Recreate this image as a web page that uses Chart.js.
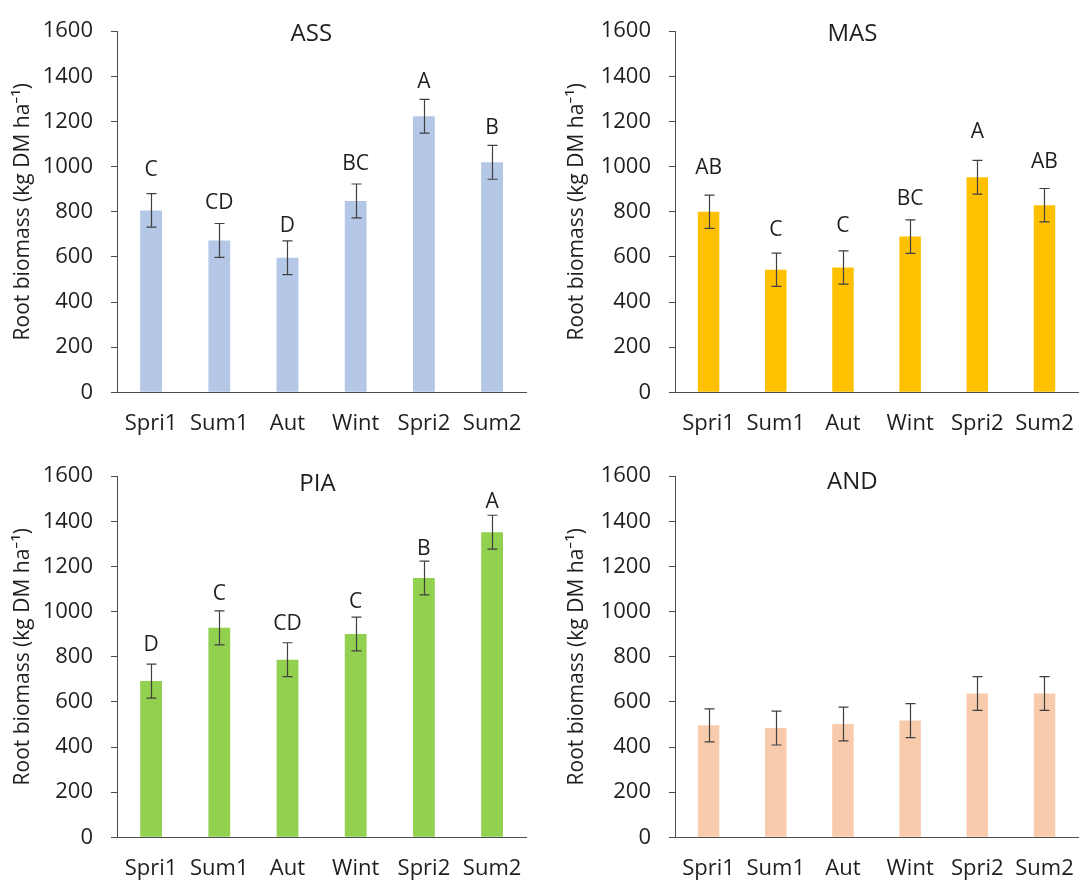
<!DOCTYPE html>
<html>
<head>
<meta charset="utf-8">
<title>Root biomass by season</title>
<script src="https://cdn.jsdelivr.net/npm/chart.js@4.4.1/dist/chart.umd.min.js"></script>
<style>
  html, body { margin: 0; padding: 0; background: #ffffff; overflow: hidden; }
  body { width: 1083px; height: 886px; position: relative; }
  canvas { position: absolute; display: block; }
</style>
</head>
<body>
<canvas id="cASS"></canvas>
<canvas id="cMAS"></canvas>
<canvas id="cPIA"></canvas>
<canvas id="cAND"></canvas>
<script>
// Sampling seasons
const categories = ['Spri1', 'Sum1', 'Aut', 'Wint', 'Spri2', 'Sum2'];

// Y-axis ticks (kg DM ha-1)
const yTicks = [0, 200, 400, 600, 800, 1000, 1200, 1400, 1600];

// Mean root biomass per site
const assValues = [806, 673, 596, 848, 1223, 1019];
const masValues = [800, 543, 553, 690, 953, 829];
const piaValues = [692, 928, 787, 901, 1149, 1352];
const andValues = [496, 484, 502, 517, 637, 637];

// Standard errors
const assErrors = [74, 75, 75, 75, 75, 75];
const masErrors = [74, 74, 74, 74, 75, 74];
const piaErrors = [75, 75, 75, 75, 75, 75];
const andErrors = [73, 75, 75, 75, 75, 75];

// Significance letters
const assLetters = ['C', 'CD', 'D', 'BC', 'A', 'B'];
const masLetters = ['AB', 'C', 'C', 'BC', 'A', 'AB'];
const piaLetters = ['D', 'C', 'CD', 'C', 'B', 'A'];
const andLetters = [];

const FONT = "'Open Sans', 'Noto Sans', sans-serif";
const TEXT = '#1f1f1f';
const AXIS = '#4d4d4d';
const ERR = '#404040';
const Y_TITLE = 'Root biomass (kg DM ha\u207B\u00B9)';

// Panel layout: canvas box, plot edges and label placement (pixels)
const panels = [
  { id: 'cASS', title: 'ASS', values: assValues, errors: assErrors, letters: assLetters,
    color: '#B4C7E7', left: 0, top: 0, width: 540, yWidth: 117, padRight: 8,
    titleFrac: 0.475, titleBase: 40.5, yTitlePad: 10,
    letterGap: [17.7, 14.3, 8.7, 14, 11.3, 11.7] },
  { id: 'cMAS', title: 'MAS', values: masValues, errors: masErrors, letters: masLetters,
    color: '#FFC000', left: 540, top: 0, width: 552, yWidth: 135, padRight: 3,
    titleFrac: 0.44, titleBase: 41, yTitlePad: 24,
    letterGap: [21, 17.3, 19, 14.7, 22, 20.3] },
  { id: 'cPIA', title: 'PIA', values: piaValues, errors: piaErrors, letters: piaLetters,
    color: '#92D050', left: 0, top: 445, width: 540, yWidth: 117, padRight: 8,
    titleFrac: 0.49, titleBase: 45.5, yTitlePad: 10,
    letterGap: [13.3, 11.3, 12.3, 9.3, 6, 7.3] },
  { id: 'cAND', title: 'AND', values: andValues, errors: andErrors, letters: andLetters,
    color: '#F8CBAD', left: 540, top: 445, width: 552, yWidth: 135, padRight: 3,
    titleFrac: 0.44, titleBase: 44, yTitlePad: 24,
    letterGap: [] }
];

const PANEL_H = 441;
const PLOT_TOP = 23.3;
const PLOT_BOTTOM = 392.3;

// Error bars, significance letters and the panel title
const annotate = {
  id: 'annotate',
  afterDatasetsDraw(chart, args, opts) {
    const { ctx, chartArea } = chart;
    const y = chart.scales.y;
    const meta = chart.getDatasetMeta(0);
    const vals = opts.values, errs = opts.errors;
    ctx.save();
    ctx.strokeStyle = ERR;
    ctx.lineWidth = 1.2;
    meta.data.forEach((bar, i) => {
      const x = Math.round(bar.x) + 0.5;
      const yt = y.getPixelForValue(vals[i] + errs[i]);
      const yb = y.getPixelForValue(vals[i] - errs[i]);
      ctx.beginPath();
      ctx.moveTo(x, yt); ctx.lineTo(x, yb);
      ctx.moveTo(x - 5, yt); ctx.lineTo(x + 5, yt);
      ctx.moveTo(x - 5, yb); ctx.lineTo(x + 5, yb);
      ctx.stroke();
      if (opts.letters[i]) {
        ctx.fillStyle = TEXT;
        ctx.font = `21px ${FONT}`;
        ctx.textAlign = 'center';
        ctx.textBaseline = 'alphabetic';
        ctx.fillText(opts.letters[i], bar.x, yt - opts.letterGap[i]);
      }
    });
    ctx.fillStyle = TEXT;
    ctx.font = `24px ${FONT}`;
    ctx.textAlign = 'center';
    ctx.textBaseline = 'alphabetic';
    const tx = chartArea.left + opts.titleFrac * (chartArea.right - chartArea.left);
    ctx.fillText(opts.title, tx, opts.titleBase);
    ctx.restore();
  }
};

panels.forEach(p => {
  const cv = document.getElementById(p.id);
  cv.width = p.width;
  cv.height = PANEL_H;
  cv.style.left = p.left + 'px';
  cv.style.top = p.top + 'px';
  cv.style.width = p.width + 'px';
  cv.style.height = PANEL_H + 'px';

  new Chart(cv, {
    type: 'bar',
    data: {
      labels: categories,
      datasets: [{
        data: p.values,
        backgroundColor: p.color,
        borderWidth: 0,
        barPercentage: 0.32,
        categoryPercentage: 1
      }]
    },
    options: {
      responsive: false,
      animation: false,
      devicePixelRatio: 1,
      layout: { padding: { top: PLOT_TOP, right: p.padRight, left: 0, bottom: 0 } },
      plugins: {
        legend: { display: false },
        tooltip: { enabled: false },
        annotate: {
          values: p.values, errors: p.errors, letters: p.letters,
          letterGap: p.letterGap, title: p.title,
          titleFrac: p.titleFrac, titleBase: p.titleBase
        }
      },
      scales: {
        x: {
          grid: { display: false, drawTicks: false },
          border: { display: true, color: AXIS, width: 1 },
          ticks: { color: TEXT, font: { family: FONT, size: 22 }, padding: 18,
                   maxRotation: 0, autoSkip: false },
          afterFit: s => { s.height = PANEL_H - PLOT_BOTTOM; }
        },
        y: {
          min: yTicks[0],
          max: yTicks[yTicks.length - 1],
          afterBuildTicks: s => { s.ticks = yTicks.map(v => ({ value: v })); },
          ticks: { color: TEXT, font: { family: FONT, size: 22 }, padding: 18,
                   callback: v => String(v) },
          grid: { drawOnChartArea: false, drawTicks: true, tickLength: 6, color: AXIS },
          border: { display: true, color: AXIS, width: 1 },
          title: {
            display: true, text: Y_TITLE, color: TEXT,
            font: { family: FONT, size: 21 },
            padding: { top: p.yTitlePad, bottom: 0 }
          },
          afterFit: s => { s.width = p.yWidth; }
        }
      }
    },
    plugins: [annotate]
  });
});
</script>
</body>
</html>
